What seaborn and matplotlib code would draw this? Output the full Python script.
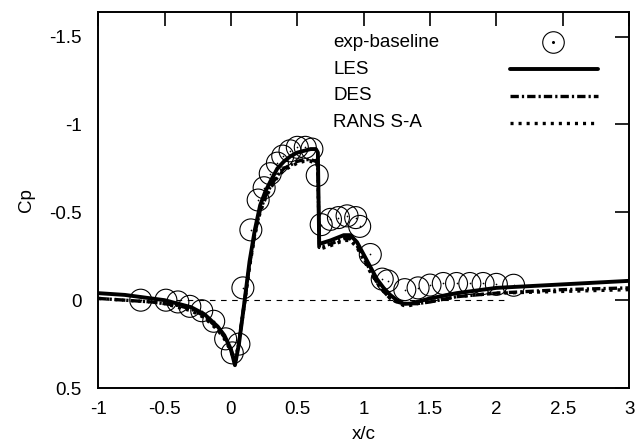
import numpy as np
import pandas as pd
import matplotlib
matplotlib.use("Agg")
import matplotlib.pyplot as plt
import seaborn as sns
from matplotlib.lines import Line2D

# ---------------- data ----------------
exp_x = [-0.68, -0.49, -0.40, -0.31, -0.22, -0.13, -0.04, 0.01, 0.06, 0.09,
         0.15, 0.205, 0.25, 0.296, 0.35, 0.39, 0.445, 0.50, 0.56, 0.61, 0.65,
         0.68, 0.75, 0.81, 0.875, 0.94, 0.97, 1.05, 1.14, 1.18, 1.31, 1.41,
         1.50, 1.60, 1.70, 1.80, 1.90, 2.00, 2.13]
exp_cp = [0.00, 0.00, 0.01, 0.035, 0.06, 0.12, 0.22, 0.30, 0.25, -0.07,
          -0.40, -0.57, -0.64, -0.72, -0.78, -0.82, -0.85, -0.87, -0.87, -0.86, -0.71,
          -0.43, -0.46, -0.47, -0.48, -0.47, -0.42, -0.26, -0.12, -0.11, -0.06, -0.07,
          -0.086, -0.095, -0.095, -0.095, -0.095, -0.09, -0.085]

les_x = [-1.0, -0.8, -0.6, -0.5, -0.4, -0.3, -0.2, -0.1, -0.05, 0.0, 0.03, 0.06,
         0.1, 0.14, 0.18, 0.22, 0.26, 0.3, 0.35, 0.4, 0.45, 0.5, 0.55, 0.6, 0.64,
         0.655, 0.665, 0.75, 0.85, 0.9, 0.95, 1.0, 1.05, 1.1, 1.15, 1.2, 1.25,
         1.3, 1.35, 1.4, 1.5, 1.7, 2.0, 2.5, 3.0]
les_cp = [-0.04, -0.03, -0.01, 0.0, 0.02, 0.04, 0.08, 0.15, 0.20, 0.28, 0.37, 0.25,
          0.02, -0.22, -0.40, -0.54, -0.62, -0.68, -0.75, -0.79, -0.82, -0.84, -0.85, -0.86, -0.86,
          -0.84, -0.32, -0.34, -0.37, -0.37, -0.33, -0.26, -0.19, -0.12, -0.07, -0.03, 0.0,
          0.02, 0.02, 0.01, -0.01, -0.04, -0.07, -0.09, -0.11]

des_x = [-1.0, -0.8, -0.6, -0.5, -0.4, -0.3, -0.2, -0.1, -0.05, 0.0, 0.03, 0.06,
         0.1, 0.14, 0.18, 0.22, 0.26, 0.3, 0.35, 0.4, 0.45, 0.5, 0.55, 0.6, 0.64,
         0.655, 0.665, 0.75, 0.85, 0.9, 0.95, 1.0, 1.05, 1.1, 1.15, 1.2, 1.25,
         1.3, 1.35, 1.4, 1.5, 1.7, 2.0, 2.5, 3.0]
des_cp = [-0.01, 0.0, 0.01, 0.02, 0.03, 0.05, 0.09, 0.16, 0.21, 0.28, 0.36, 0.24,
          0.02, -0.20, -0.38, -0.51, -0.59, -0.65, -0.71, -0.75, -0.77, -0.79, -0.80, -0.80, -0.79,
          -0.77, -0.30, -0.32, -0.35, -0.35, -0.31, -0.24, -0.17, -0.10, -0.05, -0.01, 0.01,
          0.02, 0.02, 0.02, 0.01, -0.02, -0.04, -0.06, -0.07]

rans_x = [-1.0, -0.8, -0.6, -0.5, -0.4, -0.3, -0.2, -0.1, -0.05, 0.0, 0.03, 0.06,
          0.1, 0.14, 0.18, 0.22, 0.26, 0.3, 0.35, 0.4, 0.45, 0.5, 0.55, 0.6, 0.64,
          0.655, 0.665, 0.75, 0.85, 0.9, 0.95, 1.0, 1.05, 1.1, 1.15, 1.2, 1.25,
          1.3, 1.35, 1.4, 1.5, 1.7, 2.0, 2.5, 3.0]
rans_cp = [-0.01, 0.0, 0.01, 0.02, 0.04, 0.06, 0.10, 0.17, 0.22, 0.29, 0.36, 0.24,
           0.03, -0.19, -0.37, -0.50, -0.58, -0.64, -0.70, -0.74, -0.76, -0.78, -0.79, -0.79, -0.78,
           -0.76, -0.29, -0.31, -0.34, -0.34, -0.30, -0.23, -0.16, -0.10, -0.05, -0.01, 0.01,
           0.03, 0.03, 0.02, 0.01, -0.02, -0.04, -0.05, -0.06]

xticks = [-1, -0.5, 0, 0.5, 1, 1.5, 2, 2.5, 3]
xtick_labels = ["-1", "-0.5", "0", "0.5", "1", "1.5", "2", "2.5", "3"]
yticks = [-1.5, -1, -0.5, 0, 0.5]
ytick_labels = ["-1.5", "-1", "-0.5", "0", "0.5"]

legend_labels = ["exp-baseline", "LES", "DES", "RANS S-A"]

# ---------------- style ----------------
sns.set_theme(style="white")
plt.rcParams["font.family"] = ["Liberation Sans", "DejaVu Sans"]
plt.rcParams["axes.unicode_minus"] = False
plt.rcParams["lines.scale_dashes"] = False
plt.rcParams["text.color"] = "black"
plt.rcParams["axes.labelcolor"] = "black"

FS = 13.5

fig = plt.figure(figsize=(6.38, 4.45), dpi=100)
ax = fig.add_axes([0.154, 0.128, 0.832, 0.845])

des_ls = (0, (6, 2.2, 1.6, 2.2))
rans_ls = (0, (2.2, 3.6))

# zero reference line
ax.hlines(0, -0.5, 2.08, colors="black", linewidth=0.8, linestyles=(0, (4, 4)), zorder=1)

sns.lineplot(x=rans_x, y=rans_cp, ax=ax, color="black", linewidth=2.4,
             linestyle=rans_ls, estimator=None, sort=False, zorder=3)
sns.lineplot(x=des_x, y=des_cp, ax=ax, color="black", linewidth=2.4,
             linestyle=des_ls, estimator=None, sort=False, zorder=3)
sns.lineplot(x=les_x, y=les_cp, ax=ax, color="black", linewidth=2.8,
             estimator=None, sort=False, zorder=4)

sns.scatterplot(x=exp_x, y=exp_cp, ax=ax, marker="o", s=250, facecolor="none",
                edgecolor="black", linewidth=0.8, zorder=5)
sns.scatterplot(x=exp_x, y=exp_cp, ax=ax, marker="o", s=1.5, color="black",
                linewidth=0, zorder=5)

ax.set_xlim(-1, 3)
ax.set_ylim(0.5, -1.64)
ax.set_xticks(xticks)
ax.set_xticklabels(xtick_labels)
ax.set_yticks(yticks)
ax.set_yticklabels(ytick_labels)
ax.tick_params(direction="in", length=10, width=1.2, top=True, right=True,
               labelsize=FS, colors="black", labelcolor="black")
ax.tick_params(axis="y", pad=12)
ax.tick_params(axis="x", pad=9)
for s in ax.spines.values():
    s.set_linewidth(1.4)
    s.set_color("black")
ax.set_xlabel("x/c", fontsize=FS, labelpad=6)
ax.set_ylabel("Cp", fontsize=FS, labelpad=10)

# gnuplot-style legend: text left, sample right
ys = [0.920, 0.848, 0.777, 0.705]
tx = 0.443
for lab, yy in zip(legend_labels, ys):
    ax.text(tx, yy, lab, transform=ax.transAxes, fontsize=FS, va="center", ha="left",
            color="black")
ax.add_line(Line2D([0.857], [ys[0]], transform=ax.transAxes, marker="o", markersize=15.5,
                   markerfacecolor="none", markeredgecolor="black", markeredgewidth=0.8,
                   linestyle="none"))
ax.add_line(Line2D([0.857], [ys[0]], transform=ax.transAxes, marker="o", markersize=1.2,
                   color="black", linestyle="none"))
ax.add_line(Line2D([0.776, 0.942], [ys[1], ys[1]], transform=ax.transAxes, color="black", lw=2.8))
ax.add_line(Line2D([0.776, 0.942], [ys[2], ys[2]], transform=ax.transAxes, color="black", lw=2.4,
                   linestyle=des_ls))
ax.add_line(Line2D([0.776, 0.942], [ys[3], ys[3]], transform=ax.transAxes, color="black", lw=2.4,
                   linestyle=rans_ls))

fig.savefig("out.png", dpi=100)
